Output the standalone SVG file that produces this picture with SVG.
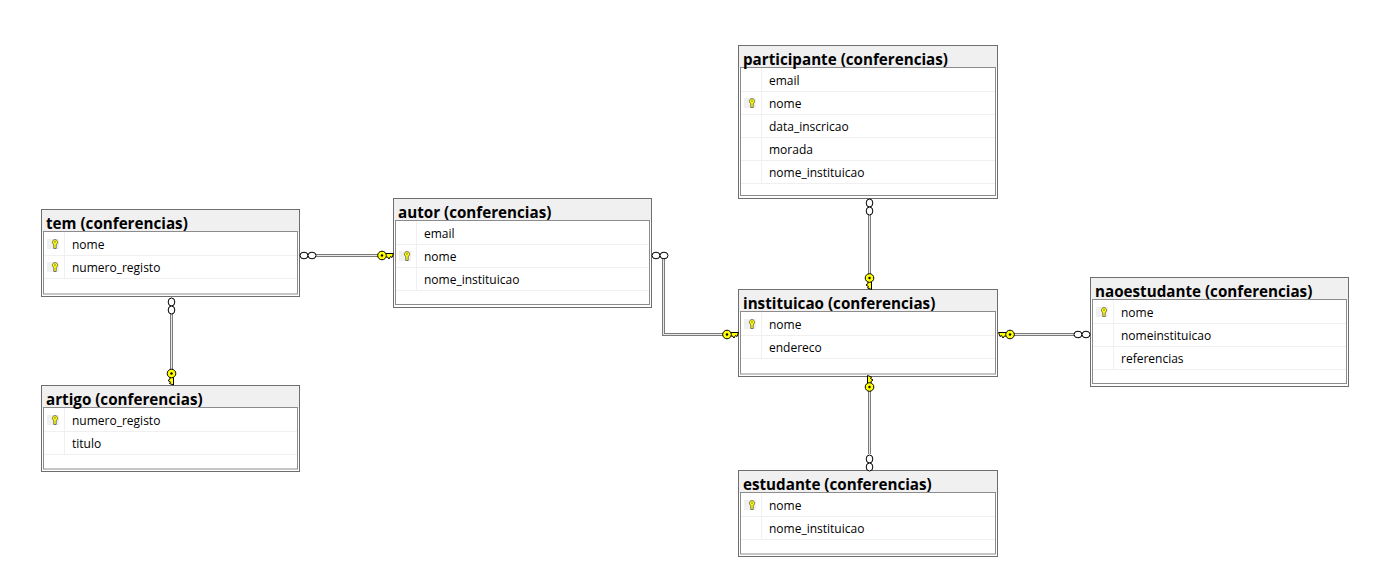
<svg xmlns="http://www.w3.org/2000/svg" width="1388" height="577" viewBox="0 0 1388 577">
<style>
.o{fill:#fff;stroke:#6e6e6e;stroke-width:1}
.h{fill:#f0f0f0}
.i{fill:#fff;stroke:#8c8c8c;stroke-width:1}
.r{stroke:#f0f0f0;stroke-width:1;fill:none}
.t{font:bold 15.2px "Open Sans","Noto Sans",sans-serif;fill:#000}
.c{font:12px "Open Sans","Noto Sans",sans-serif;fill:#000}
.l1{fill:none;stroke:#7a7a7a;stroke-width:3}
.l2{fill:none;stroke:#e8e8e8;stroke-width:1}
.n{fill:#fff;stroke:#000;stroke-width:1}
.k{fill:#ffff00;stroke:#000;stroke-width:1}
.ic{fill:#f0f0f0}
</style>
<defs>
<g id="pk"><rect class="ic" x="-8" y="-5" width="12" height="10"/><path d="M-1.200 0.500V4.500H1.200V0.500A2.600 2.600 0 1 0 -1.200 0.500z" fill="#ffff00" stroke="#555" stroke-width=".8"/><circle cx="0" cy="-2" r=".7" fill="#555"/></g>
<g id="keyR"><path class="k" d="M3-2H11.500L10 2 8.500 1 7 3.500 5.500 1.500H3z"/><circle class="k" cx="0" cy="0" r="4.300"/><circle cx="0" cy="0" r="1.200" fill="#000"/></g>
<g id="crowH"><ellipse class="n" cx="0" cy="0" rx="4" ry="3.300"/><ellipse class="n" cx="8" cy="0" rx="4" ry="3.300"/></g>
</defs>
<g id="tem">
<rect class="o" x="41.500" y="209.500" width="258" height="87"/><rect class="h" x="42" y="210" width="257" height="22"/>
<rect class="i" x="43.500" y="231.500" width="254" height="62.500"/>
<path class="r" d="M44 255.500H297M44 278.500H297M64.500 232V278"/>
<use href="#pk" x="55" y="244"/><use href="#pk" x="55" y="267"/>
<text class="t" x="46" y="229">tem (conferencias)</text>
<text class="c" x="72" y="249">nome</text><text class="c" x="72" y="272">numero_registo</text>
</g>
<g id="artigo">
<rect class="o" x="41.500" y="385.500" width="258" height="86"/><rect class="h" x="42" y="386" width="257" height="22"/>
<rect class="i" x="43.500" y="407.500" width="254" height="61.500"/>
<path class="r" d="M44 431.500H297M44 454.500H297M64.500 408V454"/>
<use href="#pk" x="55" y="420"/>
<text class="t" x="46" y="405">artigo (conferencias)</text>
<text class="c" x="72" y="425">numero_registo</text><text class="c" x="72" y="448">titulo</text>
</g>
<g id="autor">
<rect class="o" x="393.500" y="198.500" width="258" height="109"/><rect class="h" x="394" y="199" width="257" height="22"/>
<rect class="i" x="395.500" y="220.500" width="254" height="84"/>
<path class="r" d="M396 244.500H649M396 267.500H649M396 290.500H649M416.500 221V290"/>
<use href="#pk" x="407" y="256"/>
<text class="t" x="398" y="218">autor (conferencias)</text>
<text class="c" x="424" y="238">email</text><text class="c" x="424" y="261">nome</text><text class="c" x="424" y="284">nome_instituicao</text>
</g>
<g id="participante">
<rect class="o" x="738.500" y="45.500" width="259" height="153"/><rect class="h" x="739" y="46" width="258" height="22"/>
<rect class="i" x="740.500" y="67.500" width="255" height="128"/>
<path class="r" d="M741 91.500H995M741 114.500H995M741 137.500H995M741 160.500H995M741 183.500H995M761.500 68V183"/>
<use href="#pk" x="752" y="103"/>
<text class="t" x="743" y="65">participante (conferencias)</text>
<text class="c" x="769" y="85">email</text><text class="c" x="769" y="108">nome</text><text class="c" x="769" y="131">data_inscricao</text><text class="c" x="769" y="154">morada</text><text class="c" x="769" y="177">nome_instituicao</text>
</g>
<g id="instituicao">
<rect class="o" x="738.500" y="289.500" width="259" height="87"/><rect class="h" x="739" y="290" width="258" height="22"/>
<rect class="i" x="740.500" y="311.500" width="255" height="62.500"/>
<path class="r" d="M741 335.500H995M741 358.500H995M761.500 312V358"/>
<use href="#pk" x="752" y="324"/>
<text class="t" x="743" y="309">instituicao (conferencias)</text>
<text class="c" x="769" y="329">nome</text><text class="c" x="769" y="352">endereco</text>
</g>
<g id="naoestudante">
<rect class="o" x="1090.500" y="277.500" width="258" height="109"/><rect class="h" x="1091" y="278" width="257" height="22"/>
<rect class="i" x="1092.500" y="299.500" width="254" height="84"/>
<path class="r" d="M1093 323.500H1346M1093 346.500H1346M1093 369.500H1346M1113.500 300V369"/>
<use href="#pk" x="1104" y="312"/>
<text class="t" x="1095" y="297">naoestudante (conferencias)</text>
<text class="c" x="1121" y="317">nome</text><text class="c" x="1121" y="340">nomeinstituicao</text><text class="c" x="1121" y="363">referencias</text>
</g>
<g id="estudante">
<rect class="o" x="738.500" y="470.500" width="259" height="86"/><rect class="h" x="739" y="471" width="258" height="22"/>
<rect class="i" x="740.500" y="492.500" width="255" height="61.500"/>
<path class="r" d="M741 516.500H995M741 539.500H995M761.500 493V539"/>
<use href="#pk" x="752" y="505"/>
<text class="t" x="743" y="490">estudante (conferencias)</text>
<text class="c" x="769" y="510">nome</text><text class="c" x="769" y="533">nome_instituicao</text>
</g>
<g id="connectors">
<path class="l1" d="M316 255.500H379M171.500 313V370M663.500 259V334.500H724M869.500 215V275M869.500 391V454M1013 334.500H1075"/>
<path class="l2" d="M316 255.500H379M171.500 313V370M663.500 259V334.500H724M869.500 215V275M869.500 391V454M1013 334.500H1075"/>
<use href="#crowH" x="304" y="255.500"/><use href="#keyR" x="382" y="255.500"/>
<use href="#crowH" transform="translate(171.500,302) rotate(90)"/><use href="#keyR" transform="translate(171.500,373.500) rotate(90)"/>
<use href="#crowH" x="656" y="255.500"/><use href="#keyR" x="727" y="334.500"/>
<use href="#crowH" transform="translate(869.500,203) rotate(90)"/><use href="#keyR" transform="translate(869.500,278) rotate(90)"/>
<use href="#keyR" transform="translate(869.500,387) rotate(-90)"/><use href="#crowH" transform="translate(869.500,459) rotate(90)"/>
<use href="#keyR" transform="translate(1010,334.500) scale(-1,1)"/><use href="#crowH" x="1078" y="334.500"/>
</g>
</svg>
